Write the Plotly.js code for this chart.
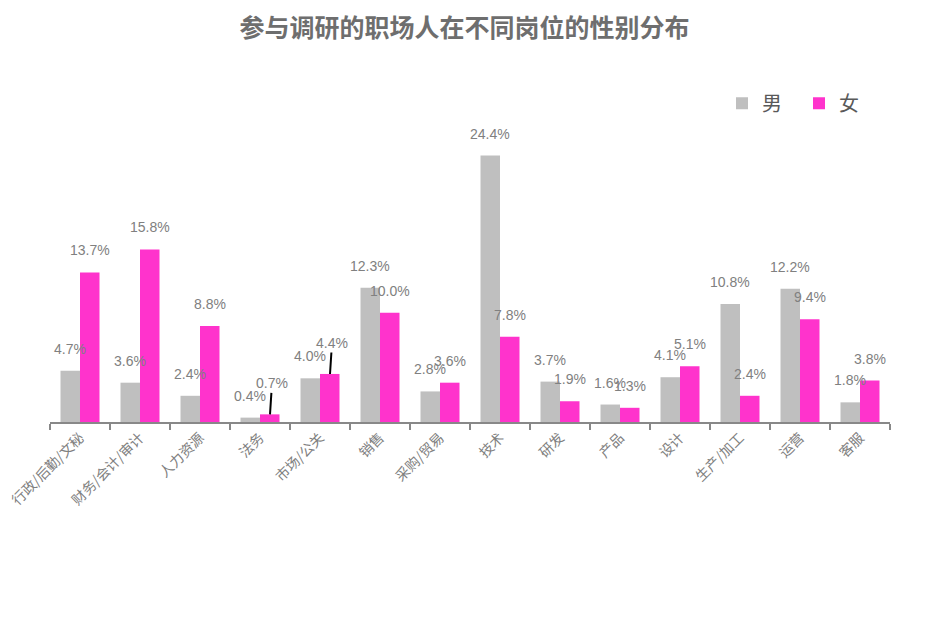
<!DOCTYPE html>
<html>
<head>
<meta charset="utf-8">
<script src="https://cdn.plot.ly/plotly-3.0.1.min.js"></script>
<style>html,body{margin:0;padding:0;background:#fff;}#chart{width:929px;height:640px;}</style>
</head>
<body>
<div id="chart"></div>
<script>
const categories = ["行政/后勤/文秘","财务/会计/审计","人力资源","法务","市场/公关","销售","采购/贸易","技术","研发","产品","设计","生产/加工","运营","客服"];
const male = [4.7, 3.6, 2.4, 0.4, 4.0, 12.3, 2.8, 24.4, 3.7, 1.6, 4.1, 10.8, 12.2, 1.8];
const female = [13.7, 15.8, 8.8, 0.7, 4.4, 10.0, 3.6, 7.8, 1.9, 1.3, 5.1, 2.4, 9.4, 3.8];
const seriesNames = ["男", "女"];
const leaderLabels = {"女": ["法务", "市场/公关"]};

const FONT = '"Noto Sans CJK SC", "Noto Sans", sans-serif';
const NUMFONT = '"Liberation Sans", "Noto Sans CJK SC", sans-serif';
const colors = ["#bfbfbf", "#ff33cc"];
const labelColor = "#808080";

const traces = [male, female].map((vals, i) => ({
  type: "bar",
  name: seriesNames[i],
  x: categories,
  y: vals,
  marker: {color: colors[i]},
  hoverinfo: "skip"
}));

const annotations = [];
[male, female].forEach((vals, i) => {
  const shift = i === 0 ? -10 : 10;
  vals.forEach((v, j) => {
    const leader = (leaderLabels[seriesNames[i]] || []).includes(categories[j]);
    if (leader) {
      annotations.push({
        x: categories[j], y: v, xref: "x", yref: "y",
        xshift: shift,
        text: v.toFixed(1) + "%",
        showarrow: true, arrowhead: 0, arrowwidth: 2, arrowcolor: "#000",
        ax: 2, ay: -31, standoff: 0,
        font: {family: NUMFONT, size: 14, color: labelColor}
      });
    } else {
      annotations.push({
        x: categories[j], y: v, xref: "x", yref: "y",
        xshift: shift, yshift: 22, yanchor: "middle",
        text: v.toFixed(1) + "%", showarrow: false,
        font: {family: NUMFONT, size: 14, color: labelColor}
      });
    }
  });
});

const layout = {
  width: 929, height: 640,
  paper_bgcolor: "#fff", plot_bgcolor: "#fff",
  margin: {l: 50, r: 39, t: 149, b: 218},
  title: {
    text: "<b>参与调研的职场人在不同岗位的性别分布</b>",
    font: {family: FONT, size: 25, color: "#6e6e6e"},
    x: 0.5, xanchor: "center", y: 0.956, yanchor: "middle", yref: "container"
  },
  barmode: "group",
  bargap: 0.35,
  bargroupgap: 0,
  xaxis: {
    type: "category",
    showline: true, linecolor: "#888", linewidth: 2,
    ticks: "outside", tickson: "boundaries", ticklen: 6, tickcolor: "#888", tickwidth: 2,
    tickangle: -45,
    tickfont: {family: FONT, size: 14, color: labelColor},
    showgrid: false, zeroline: false
  },
  yaxis: {
    range: [0, 25], visible: false, showgrid: false, zeroline: false
  },
  legend: {
    orientation: "h",
    x: 0.8, xanchor: "left",
    y: 1.168, yanchor: "middle",
    entrywidth: 32,
    font: {family: FONT, size: 20, color: "#595959"},
    bgcolor: "rgba(0,0,0,0)"
  },
  annotations: annotations,
  showlegend: true
};

Plotly.newPlot("chart", traces, layout, {displayModeBar: false, staticPlot: true});
</script>
</body>
</html>
